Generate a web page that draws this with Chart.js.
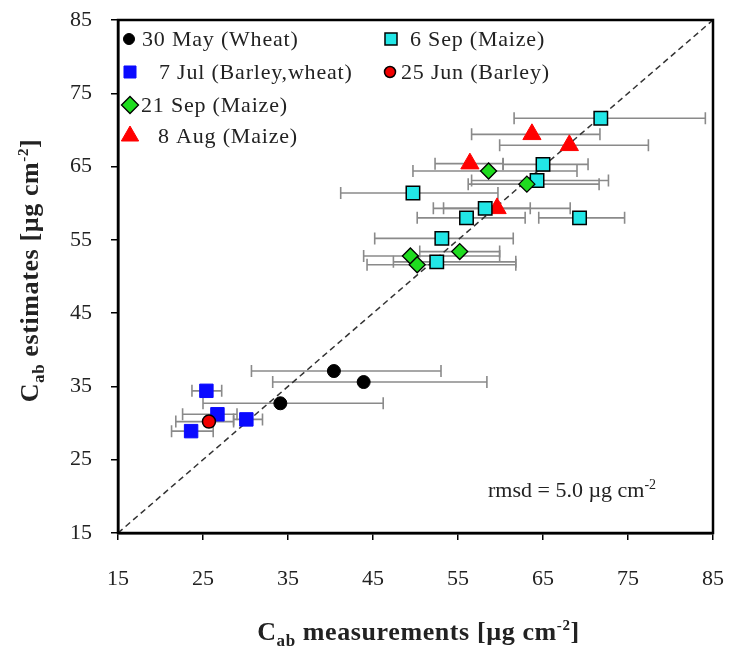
<!DOCTYPE html>
<html>
<head>
<meta charset="utf-8">
<script src="https://cdn.jsdelivr.net/npm/chart.js@4.4.1/dist/chart.umd.min.js"></script>
<style>
  html, body { margin: 0; padding: 0; background: #fff; }
  #wrap { width: 732px; height: 648px; }
</style>
</head>
<body>
<div id="wrap"><canvas id="cabChart" width="732" height="648"></canvas></div>
<script>
// axis ticks
const tickValues = [15, 25, 35, 45, 55, 65, 75, 85];

// 30 May (Wheat)
const may30X = [40.4, 43.9, 34.1];
const may30Y = [37.1, 35.6, 32.7];
const may30Lo = [30.7, 33.2, 25.0];
const may30Hi = [53.0, 58.4, 46.2];

// 7 Jul (Barley, wheat)
const jul7X = [25.4, 26.7, 30.1, 23.6];
const jul7Y = [34.4, 31.2, 30.5, 28.9];
const jul7Lo = [23.7, 22.6, 28.6, 21.3];
const jul7Hi = [27.2, 29.0, 32.0, 26.2];

// 21 Sep (Maize)
const sep21X = [58.6, 63.1, 55.2, 49.4, 50.2];
const sep21Y = [64.4, 62.6, 53.4, 52.8, 51.6];
const sep21Lo = [49.7, 56.2, 50.5, 43.9, 44.3];
const sep21Hi = [69.0, 71.6, 59.9, 59.9, 61.8];

// 8 Aug (Maize)
const aug8X = [63.7, 68.1, 56.4, 59.6];
const aug8Y = [69.4, 67.9, 65.4, 59.3];
const aug8Lo = [56.6, 59.9, 52.3, 53.3];
const aug8Hi = [71.7, 77.4, 60.3, 63.5];

// 6 Sep (Maize)
const sep6X = [71.8, 65.0, 64.3, 49.7, 58.2, 56.0, 69.3, 53.1, 52.5];
const sep6Y = [71.6, 65.3, 63.1, 61.4, 59.3, 58.0, 58.0, 55.2, 52.0];
const sep6Lo = [61.6, 60.3, 56.6, 41.2, 52.1, 50.2, 64.5, 45.2, 47.4];
const sep6Hi = [84.1, 70.3, 72.7, 59.7, 68.2, 62.9, 74.6, 61.5, 61.8];

// 25 Jun (Barley)
const jun25X = [25.7];
const jun25Y = [30.2];
const jun25Lo = [21.8];
const jun25Hi = [28.6];

// 1:1 line
const oneToOne = [15, 85];

const SERIF = '"Liberation Serif", "DejaVu Serif", serif';

function pts(xs, ys) {
    return xs.map((x, i) => ({ x: x, y: ys[i] }));
}

function series(label, xs, ys, lo, hi, style) {
    return Object.assign({
        label: label,
        data: pts(xs, ys),
        errLo: lo,
        errHi: hi,
        showLine: false
    }, style);
}

const datasets = [
    series('30 May (Wheat)', may30X, may30Y, may30Lo, may30Hi,
        { pointStyle: 'circle', pointRadius: 6.5, backgroundColor: '#000', borderColor: '#000', borderWidth: 1 }),
    series('25 Jun (Barley)', jun25X, jun25Y, jun25Lo, jun25Hi,
        { pointStyle: 'circle', pointRadius: 6.5, backgroundColor: '#f00000', borderColor: '#000', borderWidth: 1.5 }),
    series('7 Jul (Barley,wheat)', jul7X, jul7Y, jul7Lo, jul7Hi,
        { pointStyle: 'rect', pointRadius: 9.5, backgroundColor: '#0a0aff', borderColor: '#0a0aff', borderWidth: 1 }),
    series('21 Sep (Maize)', sep21X, sep21Y, sep21Lo, sep21Hi,
        { pointStyle: 'rectRot', pointRadius: 8, backgroundColor: '#1fdc1f', borderColor: '#000', borderWidth: 1.3 }),
    series('6 Sep (Maize)', sep6X, sep6Y, sep6Lo, sep6Hi,
        { pointStyle: 'rect', pointRadius: 9.5, backgroundColor: '#22e6e6', borderColor: '#000', borderWidth: 1.5 }),
    series('8 Aug (Maize)', aug8X, aug8Y, aug8Lo, aug8Hi,
        { pointStyle: 'triangle', pointRadius: 10.5, backgroundColor: '#ff0000', borderColor: '#ff0000', borderWidth: 1 }),
    {
        label: '1:1',
        data: pts(oneToOne, oneToOne),
        showLine: true,
        borderColor: '#333',
        borderWidth: 1.5,
        borderDash: [6, 4],
        pointRadius: 0,
        fill: false
    }
];

// horizontal error bars, drawn below the markers
const errorBars = {
    id: 'errorBars',
    beforeDatasetsDraw(chart) {
        const ctx = chart.ctx;
        const xs = chart.scales.x;
        ctx.save();
        ctx.strokeStyle = '#8a8a8a';
        ctx.lineWidth = 1.6;
        chart.data.datasets.forEach((ds, i) => {
            if (!ds.errLo) return;
            const meta = chart.getDatasetMeta(i);
            meta.data.forEach((pt, j) => {
                const y = pt.y;
                const x1 = xs.getPixelForValue(ds.errLo[j]);
                const x2 = xs.getPixelForValue(ds.errHi[j]);
                ctx.beginPath();
                ctx.moveTo(x1, y); ctx.lineTo(x2, y);
                ctx.moveTo(x1, y - 6); ctx.lineTo(x1, y + 6);
                ctx.moveTo(x2, y - 6); ctx.lineTo(x2, y + 6);
                ctx.stroke();
            });
        });
        ctx.restore();
    }
};

// text with sub/superscripts
function richText(ctx, parts, x, y, align, spacing) {
    ctx.letterSpacing = (spacing || 0) + 'px';
    let total = 0;
    parts.forEach(p => {
        ctx.font = (p.bold ? 'bold ' : '') + p.size + 'px ' + SERIF;
        p.w = ctx.measureText(p.t).width;
        total += p.w;
    });
    let cx = align === 'center' ? x - total / 2 : x;
    parts.forEach(p => {
        ctx.font = (p.bold ? 'bold ' : '') + p.size + 'px ' + SERIF;
        ctx.fillText(p.t, cx, y + (p.dy || 0));
        cx += p.w;
    });
    ctx.letterSpacing = '0px';
}

const decorations = {
    id: 'decorations',
    afterDraw(chart) {
        const ctx = chart.ctx;
        const a = chart.chartArea;
        const ds = chart.data.datasets;
        ctx.save();

        // frame
        ctx.strokeStyle = '#000';
        ctx.lineWidth = 2.5;
        ctx.strokeRect(a.left, a.top, a.right - a.left, a.bottom - a.top);

        ctx.fillStyle = '#222';
        ctx.textBaseline = 'alphabetic';

        // legend (two columns)
        const rows = [a.top + 19, a.top + 52, a.top + 85, a.top + 116];
        const legend = [
            { ds: 0, mx: a.left + 11, tx: a.left + 24, y: rows[0] },
            { ds: 2, mx: a.left + 12, tx: a.left + 41, y: rows[1] },
            { ds: 3, mx: a.left + 12, tx: a.left + 23, y: rows[2] },
            { ds: 5, mx: a.left + 12, tx: a.left + 40, y: rows[3] },
            { ds: 4, mx: a.left + 273, tx: a.left + 292, y: rows[0] },
            { ds: 1, mx: a.left + 272, tx: a.left + 283, y: rows[1] }
        ];
        legend.forEach(item => {
            const d = ds[item.ds];
            ctx.fillStyle = d.backgroundColor;
            ctx.strokeStyle = d.borderColor;
            ctx.lineWidth = d.borderWidth;
            const r = d.pointStyle === 'circle' ? 5.5 : (d.pointStyle === 'triangle' ? 10 : 8.5);
            Chart.helpers.drawPoint(ctx, { pointStyle: d.pointStyle, radius: r, borderWidth: d.borderWidth, rotation: 0 }, item.mx, item.y);
            ctx.fillStyle = '#222';
            ctx.font = '22px ' + SERIF;
            ctx.letterSpacing = '0.8px';
            ctx.fillText(d.label, item.tx, item.y + 7);
            ctx.letterSpacing = '0px';
        });

        // rmsd note
        ctx.fillStyle = '#222';
        richText(ctx, [
            { t: 'rmsd = 5.0 \u00b5g cm', size: 22 },
            { t: '-2', size: 14, dy: -8 }
        ], a.left + 370, a.bottom - 36, 'left');

        // x axis title
        richText(ctx, [
            { t: 'C', size: 26, bold: true },
            { t: 'ab', size: 17, bold: true, dy: 6 },
            { t: ' measurements [\u00b5g cm', size: 26, bold: true },
            { t: '-2', size: 15, bold: true, dy: -10 },
            { t: ']', size: 26, bold: true }
        ], (a.left + a.right) / 2 + 3, 640, 'center', 0.6);

        // y axis title
        ctx.translate(38, (a.top + a.bottom) / 2 - 6);
        ctx.rotate(-Math.PI / 2);
        richText(ctx, [
            { t: 'C', size: 26, bold: true },
            { t: 'ab', size: 17, bold: true, dy: 6 },
            { t: ' estimates [\u00b5g cm', size: 26, bold: true },
            { t: '-2', size: 15, bold: true, dy: -10 },
            { t: ']', size: 26, bold: true }
        ], 0, 0, 'center', 0.6);

        ctx.restore();
    }
};

function axis(fit, pad) {
    return {
        type: 'linear',
        min: 15,
        max: 85,
        afterBuildTicks(scale) {
            scale.ticks = tickValues.map(v => ({ value: v }));
        },
        afterFit: fit,
        ticks: {
            color: '#222',
            padding: pad,
            font: { family: SERIF, size: 22 }
        },
        grid: {
            drawOnChartArea: false,
            drawTicks: true,
            tickLength: 7,
            color: '#000',
            lineWidth: 1.5
        },
        border: { display: true, color: '#000', width: 2.5 }
    };
}

new Chart(document.getElementById('cabChart'), {
    type: 'scatter',
    data: { datasets: datasets },
    options: {
        responsive: false,
        animation: false,
        layout: { padding: { top: 20, right: 19, left: 0, bottom: 0 } },
        plugins: {
            legend: { display: false },
            tooltip: { enabled: false }
        },
        scales: {
            x: axis(scale => { scale.height = 115; scale.paddingRight = 0; }, 26),
            y: axis(scale => { scale.width = 118; scale.paddingTop = 0; }, 19)
        }
    },
    plugins: [errorBars, decorations]
});
</script>
</body>
</html>
